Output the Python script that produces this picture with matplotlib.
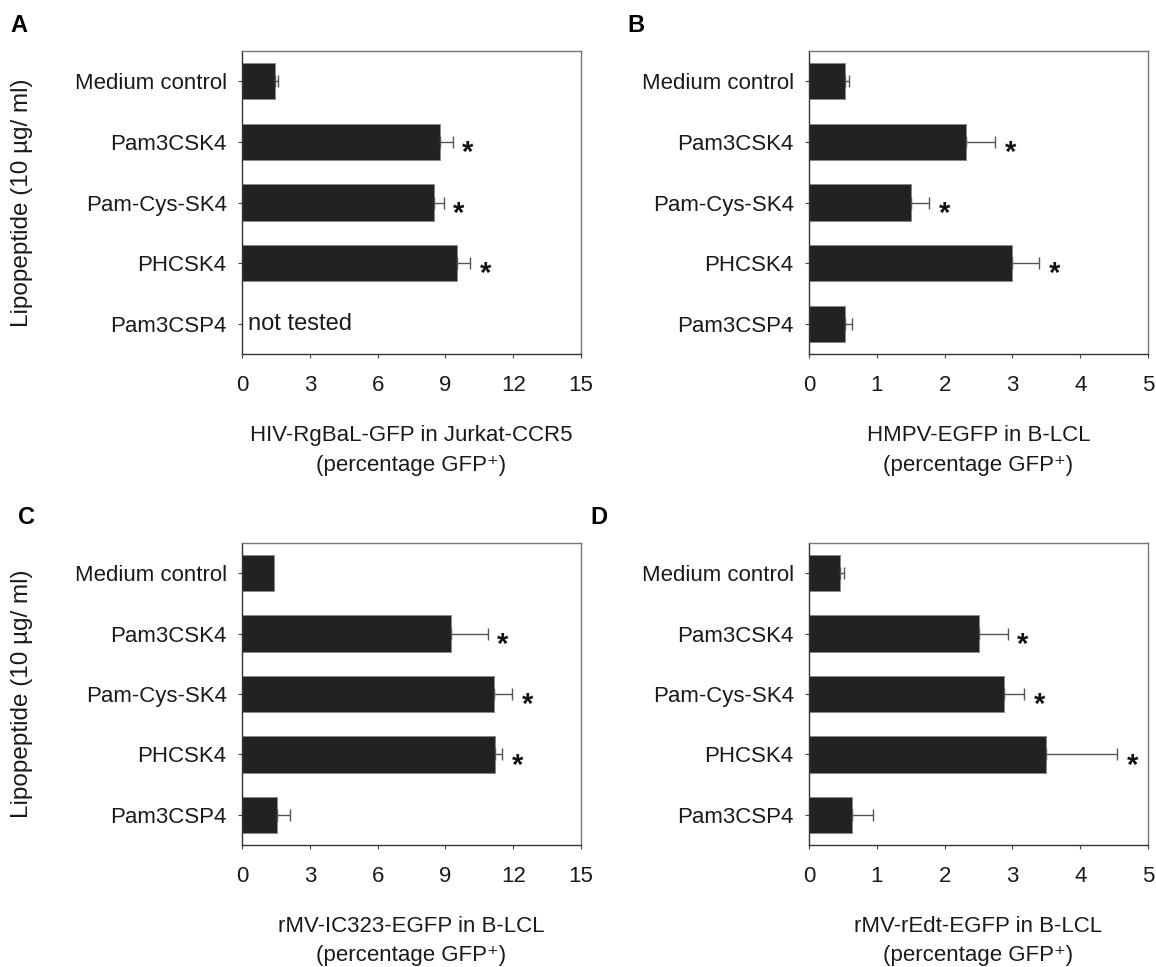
import matplotlib
matplotlib.use("Agg")
import matplotlib.pyplot as plt

plt.rcParams['font.family'] = ['Liberation Sans', 'DejaVu Sans']

categories = ["Medium control", "Pam3CSK4", "Pam-Cys-SK4", "PHCSK4", "Pam3CSP4"]

# panel A: HIV, Pam3CSP4 not tested
hiv_vals = [1.45, 8.74, 8.49, 9.51, None]
hiv_err = [0.15, 0.58, 0.43, 0.60, None]
hiv_sig = [False, True, True, True, False]

# panel B: HMPV
hmpv_vals = [0.535, 2.31, 1.51, 3.00, 0.535]
hmpv_err = [0.055, 0.43, 0.26, 0.39, 0.10]
hmpv_sig = [False, True, True, True, False]

# panel C: rMV-IC323
ic323_vals = [1.42, 9.25, 11.13, 11.19, 1.55]
ic323_err = [0.0, 1.62, 0.82, 0.33, 0.59]
ic323_sig = [False, True, True, True, False]

# panel D: rMV-rEdt
redt_vals = [0.46, 2.50, 2.87, 3.50, 0.634]
redt_err = [0.05, 0.43, 0.30, 1.04, 0.31]
redt_sig = [False, True, True, True, False]

panels = [
    ("A", hiv_vals, hiv_err, hiv_sig, 15, [0, 3, 6, 9, 12, 15],
     "HIV-RgBaL-GFP in Jurkat-CCR5\n(percentage GFP\u207a)"),
    ("B", hmpv_vals, hmpv_err, hmpv_sig, 5, [0, 1, 2, 3, 4, 5],
     "HMPV-EGFP in B-LCL\n(percentage GFP\u207a)"),
    ("C", ic323_vals, ic323_err, ic323_sig, 15, [0, 3, 6, 9, 12, 15],
     "rMV-IC323-EGFP in B-LCL\n(percentage GFP\u207a)"),
    ("D", redt_vals, redt_err, redt_sig, 5, [0, 1, 2, 3, 4, 5],
     "rMV-rEdt-EGFP in B-LCL\n(percentage GFP\u207a)"),
]

W, H = 1156, 967
fig = plt.figure(figsize=(W / 100, H / 100), dpi=100)
txt_color = '#1a1a1a'

# axes boxes in pixels: left, top, right, bottom
boxes = [(242, 51, 581, 354), (809, 51, 1148, 354),
         (242, 543, 581, 845), (809, 543, 1148, 845)]
letter_pos = [(10, 32), (627, 32), (18, 524), (590, 524)]

for (letter, vals, errs, sig, xmax, xt, xlabel), box, lp in zip(panels, boxes, letter_pos):
    l, t, r, b = box
    ax = fig.add_axes([l / W, 1 - b / H, (r - l) / W, (b - t) / H])
    ypos = list(range(len(categories)))
    for y, v, e, s in zip(ypos, vals, errs, sig):
        if v is None:
            continue
        ax.barh(y, v, height=0.6, color='#222222', edgecolor='#888888', linewidth=0.6, zorder=2)
        if e > 0:
            ax.errorbar(v, y, xerr=[[0], [e]], fmt='none', ecolor='#555555',
                        elinewidth=1.0, capsize=4.5, capthick=1.0, zorder=3)
        if s:
            ax.annotate("*", xy=(v + e, y), xytext=(11, -8), textcoords='offset points',
                        ha='center', va='center', fontsize=21, fontweight='bold', color='#111111')
    if vals[-1] is None:
        ax.text(0.25 * xmax / 15, 4, "not tested", fontsize=17, va='center', ha='left', color=txt_color)

    ax.set_xlim(0, xmax)
    ax.set_ylim(4.5, -0.5)
    ax.set_yticks(ypos)
    ax.set_yticklabels(categories, fontsize=16, color=txt_color)
    ax.set_xticks(xt)
    ax.set_xticklabels([str(x) for x in xt], fontsize=16, color=txt_color)
    ax.tick_params(axis='both', direction='out', length=3, width=0.8, color='#444444')
    ax.tick_params(axis='y', pad=8)
    ax.tick_params(axis='x', pad=12)
    ax.set_xlabel(xlabel, fontsize=16, linespacing=1.55, color=txt_color, va='center')
    ax.xaxis.set_label_coords(0.5, -0.318)
    for side in ['left', 'bottom']:
        ax.spines[side].set_color('#333333')
        ax.spines[side].set_linewidth(1.0)
    for side in ['top', 'right']:
        ax.spines[side].set_color('#777777')
        ax.spines[side].set_linewidth(1.0)
    if letter in ("A", "C"):
        ax.set_ylabel("Lipopeptide (10 µg/ ml)", fontsize=17.5, color=txt_color, va='center')
        ax.yaxis.set_label_coords(-0.65, 0.5)
    fig.text(lp[0] / W, 1 - lp[1] / H, letter, fontsize=17, fontweight='bold', ha='left', va='baseline')

fig.savefig("out.png", dpi=100)
